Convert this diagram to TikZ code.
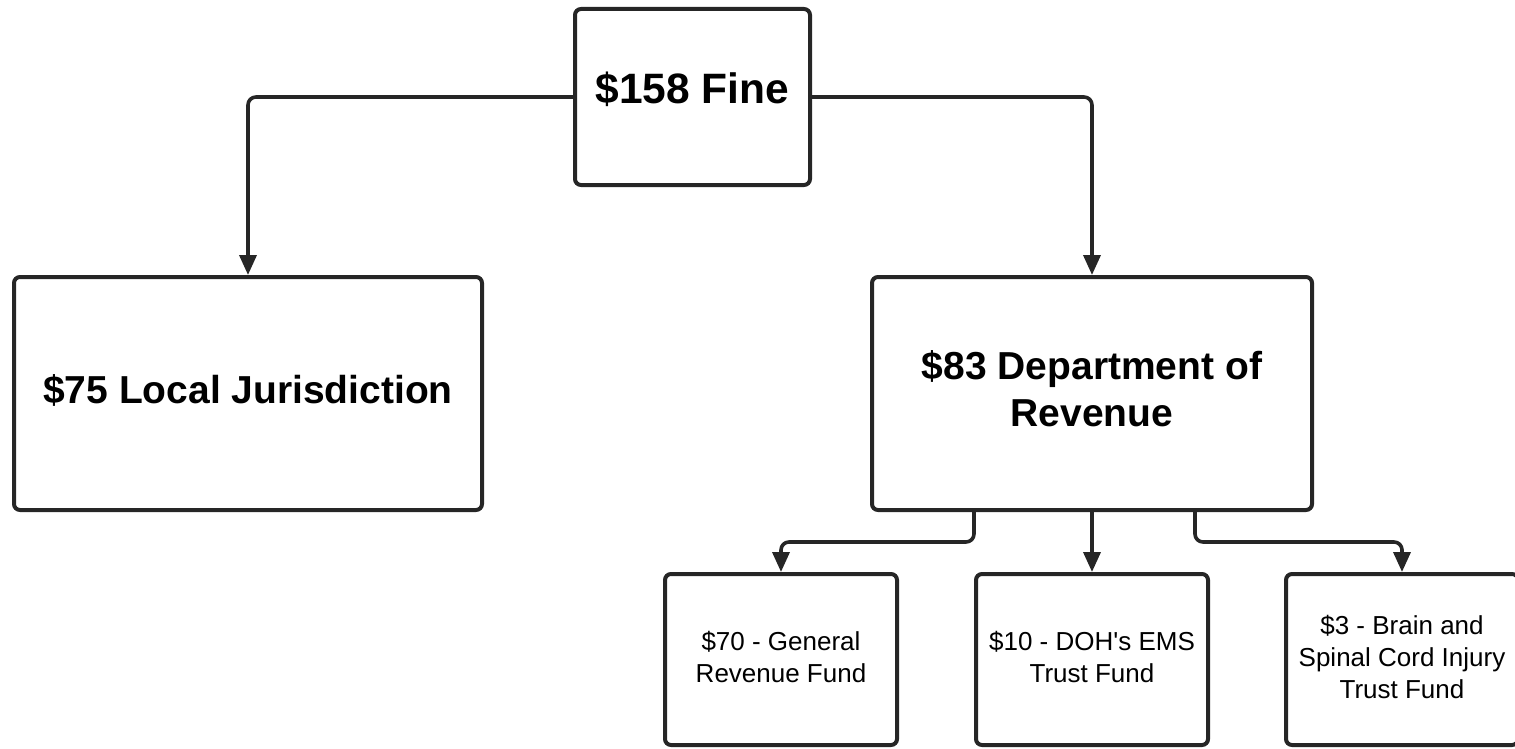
\documentclass[tikz,border=0pt]{standalone}
\usepackage{fontspec}
\setmainfont{Liberation Sans}
\usetikzlibrary{arrows.meta}
\begin{document}
\begin{tikzpicture}[x=1pt,y=-1pt,
  box/.style={draw=black!85, line width=4pt, rounded corners=6pt, inner sep=0pt, align=center},
  big/.style={font=\fontsize{39}{47}\selectfont\bfseries},
  small/.style={font=\fontsize{26}{32}\selectfont},
  conn/.style={draw=black!85, line width=3.6pt, rounded corners=8pt, -{Triangle[length=20pt,width=17pt]}}]
\useasboundingbox (0,0) rectangle (1515,749);
\clip (0,0) rectangle (1515,749);
\node[box, minimum width=235pt, minimum height=176pt, font=\fontsize{42.5}{47}\selectfont\bfseries,
      text height=30pt, text depth=17pt] (top) at (692.5,97) {\$158 Fine};
\node[box, big, minimum width=468pt, minimum height=233pt, text height=28pt, text depth=9pt]
      (left) at (248,393.5) {\$75 Local Jurisdiction};
\node[box, big, minimum width=440pt, minimum height=233pt]
      (right) at (1092,393.5) {\$83 Department of\\Revenue\rule[-9pt]{0pt}{9pt}};
\node[box, small, minimum width=232pt, minimum height=171pt] (b1) at (781,659.5) {\$70 - General\\Revenue Fund\rule[-6pt]{0pt}{6pt}};
\node[box, small, minimum width=232pt, minimum height=171pt] (b2) at (1092,659.5) {\$10 - DOH\textquotesingle s EMS\\Trust Fund\rule[-6pt]{0pt}{6pt}};
\node[box, small, minimum width=232pt, minimum height=171pt] (b3) at (1402,659.5) {\$3 - Brain and\\Spinal Cord Injury\\Trust Fund\rule[-6pt]{0pt}{6pt}};
\draw[conn] (top.west) -| (left.north);
\draw[conn] (top.east) -| (right.north);
\coordinate (j1) at (974,542);
\coordinate (j3) at (1195,542);
\draw[conn] (right.south -| j1) -- (j1) -| (b1.north);
\draw[conn] (right.south) -- (b2.north);
\draw[conn] (right.south -| j3) -- (j3) -| (b3.north);
\end{tikzpicture}
\end{document}
